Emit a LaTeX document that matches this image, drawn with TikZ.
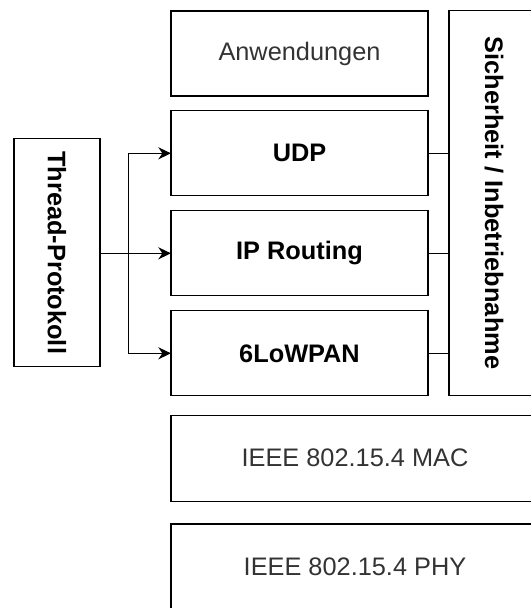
\documentclass[tikz,border=0pt]{standalone}
\usepackage{fontspec}
\setmainfont{Liberation Sans}
\usetikzlibrary{arrows.meta}

\tikzset{every picture/.style={line width=1pt}}

\begin{document}
\begin{tikzpicture}[x=0.75pt,y=0.75pt,yscale=-1,
	layer/.style={draw,inner sep=0pt,outer sep=0pt,minimum width=192.75pt,minimum height=63.75pt,font=\fontsize{19}{23}\selectfont},
	widelayer/.style={layer,minimum width=276pt,minimum height=64.5pt},
	sidebox/.style={draw,inner sep=0pt,outer sep=0pt,font=\fontsize{19}{23}\selectfont\bfseries},
	link/.style={-{Stealth[length=9.5pt,width=9pt,inset=3pt]}}]
	%set diagram size: 531 x 608
	\useasboundingbox (0,0) rectangle (531,608);
	\clip (0,0) rectangle (531,608);
	
	% Stack
	\node [layer,text=black!80] (app) at (299.5,53.5) {Anwendungen};
	\node [layer,font=\fontsize{19}{23}\selectfont\bfseries] (udp) at (299.5,153.3) {UDP};
	\node [layer,font=\fontsize{19}{23}\selectfont\bfseries] (ip) at (299.5,253.3) {IP Routing};
	\node [layer,font=\fontsize{19}{23}\selectfont\bfseries] (lowpan) at (299.5,353.3) {6LoWPAN};
	\node [widelayer,text=black!80] (mac) at (355,458.2) {IEEE 802.15.4 MAC};
	\node [widelayer,text=black!80] (phy) at (355,567) {IEEE 802.15.4 PHY};
	
	% Side boxes
	\node [sidebox,minimum width=67.5pt,minimum height=288.5pt] (sec) at (494,203) {};
	\node [rotate=-90,font=\fontsize{19}{23}\selectfont\bfseries] (sectext) at (sec.center) {Sicherheit / Inbetriebnahme};
	\node [sidebox,minimum width=64.5pt,minimum height=171pt] (thread) at (57,252.7) {};
	\node [rotate=-90,font=\fontsize{19}{23}\selectfont\bfseries] (threadtext) at (thread.center) {Thread-Protokoll};
	
	% Connectors
	\coordinate (split) at (128.5,253.3);
	\draw [link] (thread.east |- split) -- (ip.west);
	\draw [link] (split) |- (udp.west);
	\draw [link] (split) |- (lowpan.west);
	\draw (udp.east) -- (sec.west |- udp.east);
	\draw (ip.east) -- (sec.west |- ip.east);
	\draw (lowpan.east) -- (sec.west |- lowpan.east);
	
\end{tikzpicture}
\end{document}
